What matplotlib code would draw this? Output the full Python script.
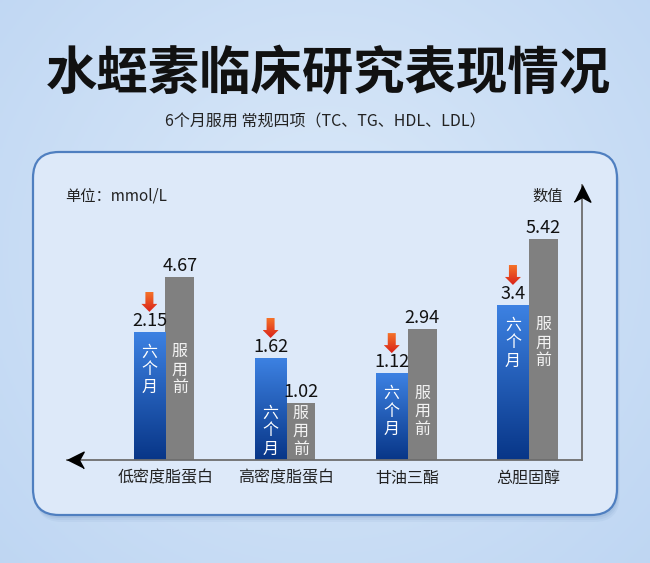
import matplotlib.pyplot as plt
import numpy as np
from matplotlib.patches import FancyBboxPatch, Rectangle, Polygon

plt.rcParams['font.family'] = ['Noto Sans CJK SC', 'DejaVu Sans']

# --- data (the picture is laid out mirrored: 总胆固醇 sits at the right) ---
categories = ["总胆固醇", "甘油三酯", "高密度脂蛋白", "低密度脂蛋白"]
before_values = [5.42, 2.94, 1.02, 4.67]   # 服用前 (labels)
after_values = [3.4, 1.12, 1.62, 2.15]     # 六个月 (labels)
# bar heights as drawn in the picture (the artwork is not to scale with the labels)
before_heights = [5.42, 3.21, 1.40, 4.49]
after_heights = [3.80, 2.13, 2.50, 3.14]

title = "水蛭素临床研究表现情况"
subtitle = "6个月服用 常规四项（TC、TG、HDL、LDL）"
unit_text = "单位：mmol/L"
axis_text = "数值"

W, H = 650, 563
fig = plt.figure(figsize=(W / 100, H / 100), dpi=100)

# --- background layer in pixel coordinates ---
bg = fig.add_axes([0, 0, 1, 1])
bg.set_xlim(0, W)
bg.set_ylim(H, 0)
bg.axis("off")

yy, xx = np.mgrid[0:1:200j, 0:1:200j]
d = np.clip(np.sqrt(((xx - 0.5) / 0.75) ** 2 + ((yy - 0.45) / 0.85) ** 2), 0, 1)[..., None]
c_in = np.array([0.86, 0.915, 0.975])
c_out = np.array([0.74, 0.835, 0.95])
bg.imshow(c_in * (1 - d) + c_out * d, extent=[0, W, H, 0], aspect="auto", zorder=0)

# panel with soft shadow
for off, a in [(7, 0.05), (5, 0.06), (3, 0.08)]:
    bg.add_patch(FancyBboxPatch((33 + off * 0.4, 152 + off), 584, 363,
                                boxstyle="round,pad=0,rounding_size=26",
                                fc="#2f5a92", ec="none", alpha=a, zorder=1))
bg.add_patch(FancyBboxPatch((33, 152), 584, 363,
                            boxstyle="round,pad=0,rounding_size=26",
                            fc="#dde9f9", ec="#4f7fc0", lw=1.6, zorder=2))

bg.text(328, 73, title, fontsize=37, fontweight="bold", ha="center", va="center",
        color="#111111", zorder=3)
bg.text(325, 122, subtitle, fontsize=11.5, ha="center", va="center",
        color="#222222", zorder=3)
bg.text(116, 196, unit_text, fontsize=11, ha="center", va="center", color="#222222", zorder=3)
bg.text(548, 196, axis_text, fontsize=11, ha="center", va="center", color="#222222", zorder=3)

# --- chart axes ---
ax = fig.add_axes([67 / W, 1 - 460 / H, (582 - 67) / W, (460 - 185) / H])
ax.patch.set_alpha(0)
for s in ax.spines.values():
    s.set_visible(False)
ax.set_xticks([])
ax.set_yticks([])

x = np.arange(len(categories))
bw_after, bw_before = 0.26, 0.24
ax.set_xlim(len(categories) - 1 + 0.81, -0.44)   # mirrored axis
ax.set_ylim(0, 6.74)


def px_offset(xd, yd, dx, dy):
    X, Y = ax.transData.transform((xd, yd))
    return ax.transData.inverted().transform((X + dx, Y + dy))


grad = np.linspace(0, 1, 256)[:, None]
blue_top = np.array([0.24, 0.51, 0.89])
blue_bot = np.array([0.03, 0.21, 0.53])
blue_img = blue_bot * (1 - grad[..., None]) + blue_top * grad[..., None]
red_top = np.array([0.96, 0.45, 0.16])
red_bot = np.array([0.85, 0.13, 0.10])
red_img = red_bot * (1 - grad[..., None]) + red_top * grad[..., None]

for i in range(len(categories)):
    xa = x[i] + bw_after / 2
    xb = x[i] - bw_before / 2

    # 服用前 (gray)
    ax.bar(xb, before_heights[i], bw_before, color="#808080", zorder=2)

    # 六个月 (blue gradient)
    rect = Rectangle((xa - bw_after / 2, 0), bw_after, after_heights[i],
                     fc="none", ec="none", zorder=2)
    ax.add_patch(rect)
    im = ax.imshow(blue_img, extent=[xa - bw_after / 2, xa + bw_after / 2, 0, after_heights[i]],
                   origin="lower", aspect="auto", zorder=2)
    im.set_clip_path(rect)

    # value labels
    ax.annotate(f"{before_values[i]:g}", (xb, before_heights[i]), xytext=(0, 4.5),
                textcoords="offset points", ha="center", va="baseline",
                fontsize=13, color="#111111")
    ax.annotate(f"{after_values[i]:g}", (xa, after_heights[i]), xytext=(0, 4.5),
                textcoords="offset points", ha="center", va="baseline",
                fontsize=13, color="#111111")

    # red down arrow above the 六个月 bar
    top = after_heights[i]
    pts_px = [(0, 20), (8, 28), (4, 28), (4, 40), (-4, 40), (-4, 28), (-8, 28)]
    verts = [px_offset(xa, top, dx, dy) for dx, dy in pts_px]
    arrow = Polygon(verts, closed=True, fc="none", ec="none", zorder=3)
    ax.add_patch(arrow)
    (x0, y0), (x1, y1) = px_offset(xa, top, -8, 20), px_offset(xa, top, 8, 40)
    aim = ax.imshow(red_img, extent=[x0, x1, y0, y1], origin="lower", aspect="auto", zorder=3)
    aim.set_clip_path(arrow)

    # vertical text inside the bars
    low_px = min(before_heights[i], after_heights[i]) * 275 / 6.74
    first = min(20, low_px - 47)
    for k, (ca, cb) in enumerate(zip("六个月", "服用前")):
        dy = -(first + 18 * k) * 0.72
        ax.annotate(ca, (xa, min(before_heights[i], after_heights[i])), xytext=(0, dy),
                    textcoords="offset points", ha="center", va="center",
                    fontsize=11.5, color="white", zorder=4)
        ax.annotate(cb, (xb, min(before_heights[i], after_heights[i])), xytext=(0, dy),
                    textcoords="offset points", ha="center", va="center",
                    fontsize=11.5, color="#f4f4f4", zorder=4)

    # category labels
    ax.annotate(categories[i], (x[i], 0), xytext=(0, -13), textcoords="offset points",
                ha="center", va="center", fontsize=11.5, color="#222222",
                annotation_clip=False)

# axis lines with arrow heads (mirrored: x arrow points left, y axis on the right)
ax.plot([0, 1], [0, 0], transform=ax.transAxes, color="#6e6e6e", lw=1.3,
        clip_on=False, zorder=3)
ax.plot([1, 1], [0, 1], transform=ax.transAxes, color="#6e6e6e", lw=1.3,
        clip_on=False, zorder=3)
head_left = [(0, 0), (1, 0.5), (0.72, 0), (1, -0.5)]
head_up = [(0, 0), (0.5, -1), (0, -0.72), (-0.5, -1)]
ax.plot([0], [0], transform=ax.transAxes, marker=head_left, markersize=24,
        color="black", clip_on=False, zorder=4)
ax.plot([1], [1], transform=ax.transAxes, marker=head_up, markersize=24,
        color="black", clip_on=False, zorder=4)

ax.set_xlim(len(categories) - 1 + 0.81, -0.44)
ax.set_ylim(0, 6.74)

fig.savefig("out.png", dpi=100)
